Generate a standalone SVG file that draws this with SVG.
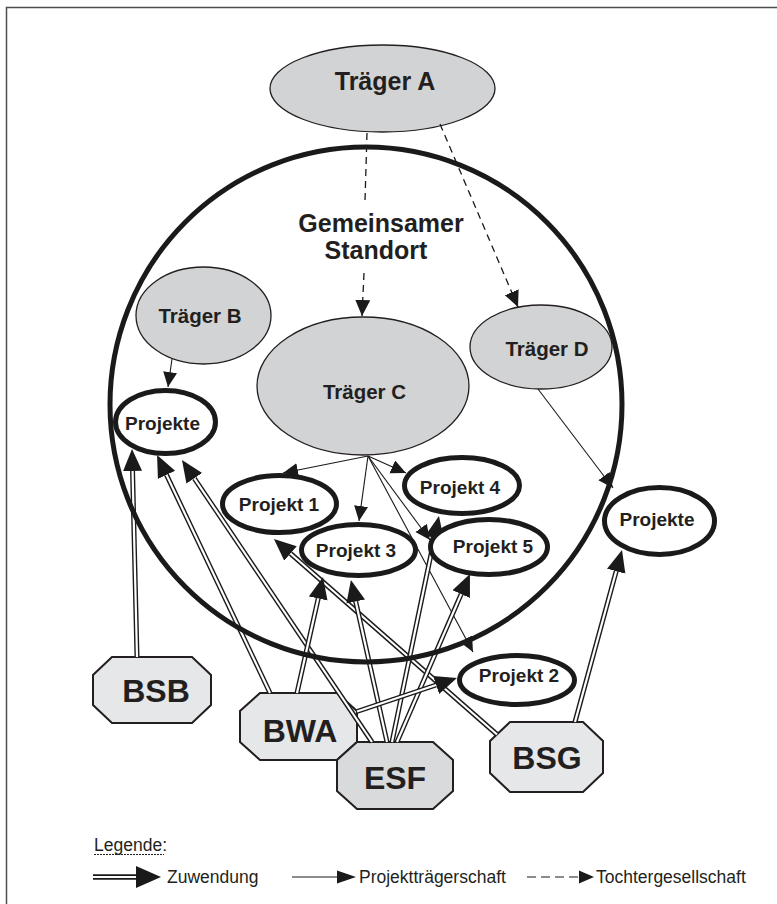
<svg xmlns="http://www.w3.org/2000/svg" width="777" height="904" viewBox="0 0 777 904">
<defs>
<style>
.frame{fill:none;stroke:#4d4d4d;stroke-width:1.5}
.tr{fill:#d1d3d4;stroke:#231f20;stroke-width:1.3}
.oct{fill:#e6e7e8;stroke:#231f20;stroke-width:2}
.esf{fill:#d9dadc}
.pj{fill:#fff;stroke:#1a1a1a;stroke-width:5}
.big{fill:none;stroke:#1a1a1a;stroke-width:5}
.t{font-family:"Liberation Sans",Arial,Helvetica,sans-serif;font-weight:bold;fill:#231f20;text-anchor:middle}
.t25{font-size:25px}
.t20{font-size:20.5px}
.t19{font-size:19px}
.t32{font-size:32px}
.lg{font-family:"Liberation Sans",Arial,Helvetica,sans-serif;font-size:17.5px;fill:#231f20}
.thin{fill:none;stroke:#1a1a1a;stroke-width:1.1;marker-end:url(#aThin)}
.dash{fill:none;stroke:#1a1a1a;stroke-width:1.3;stroke-dasharray:7 5}
.arr{marker-end:url(#aDash)}
.dblo{fill:none;stroke:#1a1a1a;stroke-width:5;marker-end:url(#aDbl)}
.dbli{fill:none;stroke:#fff;stroke-width:2.2}
.ah{fill:#1a1a1a}
</style>
<marker id="aThin" markerUnits="userSpaceOnUse" markerWidth="16" markerHeight="15" refX="15" refY="7" orient="auto"><path d="M0,0 L15,7 L0,14 Z" fill="#1a1a1a"/></marker>
<marker id="aDash" markerUnits="userSpaceOnUse" markerWidth="17" markerHeight="16" refX="16" refY="7.5" orient="auto"><path d="M0,0 L16,7.5 L0,15 Z" fill="#1a1a1a"/></marker>
<marker id="aDbl" markerUnits="userSpaceOnUse" markerWidth="23" markerHeight="20" refX="0" refY="9.5" orient="auto"><path d="M0,0 L22,9.5 L0,19 Z" fill="#1a1a1a"/></marker>
</defs>

<rect class="frame" x="6.5" y="7.5" width="800" height="960"/>

<g id="traeger-a"><ellipse class="tr" cx="382.5" cy="88.5" rx="112.5" ry="43.5"/><text class="t t25" x="385" y="90">Träger A</text></g>
<g id="traeger-b"><ellipse class="tr" cx="203.5" cy="315.5" rx="67.5" ry="48.5"/><text class="t t20" x="200" y="323">Träger B</text></g>
<g id="traeger-c"><ellipse class="tr" cx="363" cy="386" rx="106" ry="69"/><text class="t t20" x="364.5" y="399">Träger C</text></g>
<g id="traeger-d"><ellipse class="tr" cx="541" cy="347" rx="71" ry="42"/><text class="t t20" x="547" y="356">Träger D</text></g>

<g id="bsb"><polygon class="oct" points="112,657 192,657 211,675 211,705 192,723 112,723 93,705 93,675"/><text class="t t32" x="156" y="702">BSB</text></g>
<g id="bwa"><polygon class="oct" points="260,693 337,693 357,711 357,742 337,760 260,760 240,742 240,711"/><text class="t t32" x="300" y="742">BWA</text></g>
<g id="bsg"><polygon class="oct" points="510,722 583,722 603,741 603,773 583,792 510,792 490,773 490,741"/><text class="t t32" x="547" y="769">BSG</text></g>
<g id="esf"><polygon class="oct esf" points="357,742 433,742 453,760 453,791 433,809 357,809 337,791 337,760"/><text class="t t32" x="395" y="789">ESF</text></g>

<g id="connectors">
<path class="dash" d="M367,133 L365,201"/>
<path class="dash arr" d="M364,273 L362,316"/>
<path class="dash arr" d="M440,124 L518,307"/>
<path class="thin" d="M172,359 L168,387"/>
<path class="thin" d="M368,456 L283,473"/>
<path class="thin" d="M368,456 L359,521"/>
<path class="thin" d="M368,456 L406,473"/>
<path class="thin" d="M368,456 L430,540"/>
<path class="thin" d="M368,456 L473,652"/>
<path class="thin" d="M538,389 L613,488"/>
<g><path class="dblo" d="M137,657 L132.55,471"/><path class="dbli" d="M137,657 L132.55,471"/></g>
<g><path class="dblo" d="M270,693 L166.5,474.9"/><path class="dbli" d="M270,693 L166.5,474.9"/></g>
<g><path class="dblo" d="M372,742 L194.3,478.3"/><path class="dbli" d="M372,742 L194.3,478.3"/></g>
<g><path class="dblo" d="M497,734.5 L290.5,553.5"/><path class="dbli" d="M497,734.5 L290.5,553.5"/></g>
<g><path class="dblo" d="M297,693 L318.2,598.5"/><path class="dbli" d="M297,693 L318.2,598.5"/></g>
<g><path class="dblo" d="M387,742 L355.7,601.5"/><path class="dbli" d="M387,742 L355.7,601.5"/></g>
<g><path class="dblo" d="M392,742 L434.5,537.6"/><path class="dbli" d="M392,742 L434.5,537.6"/></g>
<g><path class="dblo" d="M397,742 L461.2,594.1"/><path class="dbli" d="M397,742 L461.2,594.1"/></g>
<g><path class="dblo" d="M357,711.5 L436.1,685"/><path class="dbli" d="M357,711.5 L436.1,685"/></g>
<g><path class="dblo" d="M575,722 L616.2,571.2"/><path class="dbli" d="M575,722 L616.2,571.2"/></g>
</g>

<g id="standort"><ellipse class="big" cx="366" cy="404.5" rx="256" ry="257.5"/><text class="t t25" x="381" y="232">Gemeinsamer</text><text class="t t25" x="376" y="259">Standort</text></g>

<g id="projekte-b"><ellipse class="pj" cx="165.5" cy="422" rx="50" ry="31.5"/><text class="t t19" x="162.5" y="430">Projekte</text></g>
<g id="projekt-1"><ellipse class="pj" cx="279.5" cy="504" rx="57" ry="28.5"/><text class="t t19" x="279" y="511">Projekt 1</text></g>
<g id="projekt-3"><ellipse class="pj" cx="358.5" cy="550" rx="57" ry="25.5"/><text class="t t19" x="356" y="557">Projekt 3</text></g>
<g id="projekt-4"><ellipse class="pj" cx="462" cy="485.5" rx="57.5" ry="28"/><text class="t t19" x="460" y="494">Projekt 4</text></g>
<g id="projekt-5"><ellipse class="pj" cx="489" cy="547" rx="58.5" ry="27.5"/><text class="t t19" x="493" y="553">Projekt 5</text></g>
<g id="projekte-d"><ellipse class="pj" cx="659.5" cy="521" rx="55" ry="33.5"/><text class="t t19" x="657" y="526">Projekte</text></g>
<g id="projekt-2"><ellipse class="pj" cx="517" cy="680" rx="57.5" ry="24.5"/><text class="t t19" x="519" y="682">Projekt 2</text></g>

<g id="legend">
<text class="lg" x="94" y="851">Legende:</text>
<line x1="94" y1="854.5" x2="164" y2="854.5" stroke="#231f20" stroke-width="1" stroke-dasharray="2 1"/>
<path d="M93,877 H137" stroke="#1a1a1a" stroke-width="5.5" fill="none"/>
<path d="M93,877 H137" stroke="#fff" stroke-width="2.2" fill="none"/>
<path class="ah" d="M136,866 L161,877 L136,888 Z"/>
<text class="lg" x="167" y="883">Zuwendung</text>
<path d="M292,877 H340" stroke="#1a1a1a" stroke-width="1.2" fill="none"/>
<path class="ah" d="M337,870.5 L356,877 L337,883.5 Z"/>
<text class="lg" x="359" y="883">Projektträgerschaft</text>
<path d="M527,877 H581" stroke="#1a1a1a" stroke-width="1.2" stroke-dasharray="9 5" fill="none"/>
<path class="ah" d="M579,870.5 L594,877 L579,883.5 Z"/>
<text class="lg" x="596" y="883">Tochtergesellschaft</text>
</g>
</svg>
